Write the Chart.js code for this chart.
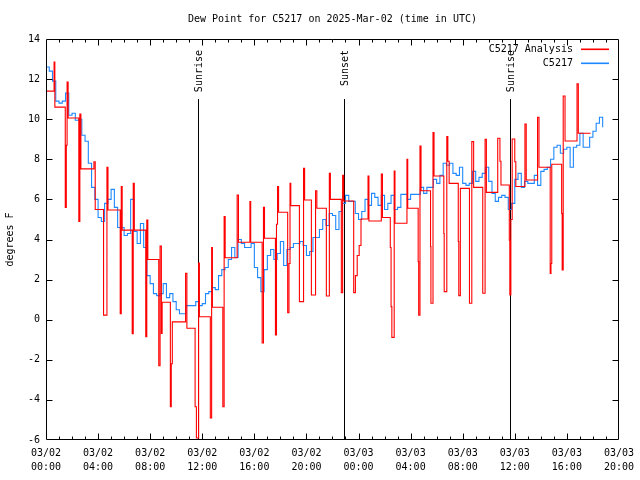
<!DOCTYPE html>
<html><head><meta charset="utf-8">
<script src="https://cdn.jsdelivr.net/npm/chart.js@4"></script>
<style>html,body{margin:0;padding:0;background:#fff}canvas{display:block}</style>
</head><body>
<canvas id="c" width="640" height="480"></canvas>
<script>
const FONT = "'DejaVu Sans Mono', 'Liberation Mono', monospace";
const titleText = 'Dew Point for C5217 on 2025-Mar-02 (time in UTC)';
const yAxisTitle = 'degrees F';
const xTickDates = ['03/02','03/02','03/02','03/02','03/02','03/02','03/03','03/03','03/03','03/03','03/03','03/03'];
const xTickTimes = ['00:00','04:00','08:00','12:00','16:00','20:00','00:00','04:00','08:00','12:00','16:00','20:00'];
const seriesNames = ['C5217 Analysis', 'C5217'];
const seriesColors = ['#ff0000', '#1e88ff'];

// C5217 observations, every 15 minutes from 03/02 00:00 UTC (hours)
const blueStartHour = 0;
const blueStepHours = 0.25;
const blueValues = [
  12.6,12.4,11.9,10.9,10.8,10.9,11.3,10.2,10.3,9.95,10.0,9.2,8.9,7.8,6.6,6.0,
  5.1,4.9,5.8,6.0,6.5,5.6,4.6,4.6,4.2,4.3,6.0,4.4,3.8,4.8,3.6,2.2,1.8,1.3,1.2,1.3,
  1.8,1.1,1.3,0.9,0.5,0.3,0.3,0.7,0.7,0.7,0.9,0.7,0.8,1.3,1.4,1.6,
  1.5,2.2,2.5,2.6,3.0,3.6,3.1,4.0,3.8,3.6,3.6,3.8,2.6,2.1,1.4,2.5,3.2,3.5,3.0,3.3,
  3.9,2.7,3.5,3.6,3.8,3.8,3.9,3.7,3.2,3.4,4.1,4.1,4.5,5.0,4.7,5.3,
  5.2,4.5,5.4,5.8,6.2,5.9,5.9,5.3,5.0,5.4,6.0,5.7,6.3,6.1,5.7,6.2,5.5,5.8,6.2,
  5.5,5.6,6.25,6.25,6.0,6.25,6.25,6.25,6.6,6.3,6.6,6.6,7.0,6.8,7.2,7.8,
  7.7,7.8,7.3,7.2,7.6,6.8,6.7,6.8,7.4,6.9,7.1,7.3,7.6,6.9,6.3,5.9,6.1,6.2,6.1,5.5,
  5.8,7.0,7.3,6.6,6.9,6.8,6.8,7.2,6.7,7.4,7.5,7.6,8.0,8.6,8.7,8.3,
  8.5,8.6,7.6,8.6,8.7,9.3,8.6,8.6,9.1,9.4,9.8,10.1,9.6
];

// C5217 Analysis (step changes), hours since 03/02 00:00 UTC
const redTimes = [
  0.00,0.62,0.68,1.48,1.56,1.62,1.70,2.52,2.60,2.68,3.68,3.78,4.42,4.68,4.76,5.70,5.78,5.85,
  6.62,6.70,6.78,7.66,7.74,7.82,8.66,8.76,8.86,8.92,9.55,9.62,9.70,10.72,10.82,11.45,11.55,
  11.72,11.78,12.62,12.72,12.78,13.58,13.68,13.76,14.68,14.78,15.66,15.72,16.60,16.70,16.78,
  17.62,17.70,17.78,17.86,18.56,18.66,18.74,18.80,19.46,19.78,19.86,20.38,20.70,20.80,
  21.53,21.76,21.84,22.68,22.78,22.86,23.63,23.76,23.90,24.05,24.19,24.73,24.80,25.75,25.84,
  26.44,26.50,26.56,26.74,26.80,27.72,27.78,28.58,28.62,28.72,28.80,29.53,29.56,29.72,29.80,
  30.55,30.58,30.78,30.86,30.96,31.66,31.70,31.82,32.52,32.70,32.84,33.54,33.72,33.82,
  34.69,34.86,34.94,35.58,35.62,35.70,35.80,36.00,36.08,36.78,36.88,37.75,37.86,38.72,38.78,
  38.84,39.60,39.64,39.72,39.86,40.78,40.88,41.82
];
const redValues = [
  11.4,12.85,10.6,5.6,8.7,11.85,10.06,4.9,10.26,7.52,7.88,5.5,0.23,7.6,5.47,0.3,6.64,4.47,
  -0.7,6.8,4.47,-0.85,4.97,3.0,-2.3,3.67,-0.68,0.87,-4.34,-2.2,-0.11,2.31,-0.43,-4.34,-5.9,
  2.83,0.15,-4.9,3.6,0.62,-4.34,5.14,3.09,6.22,3.86,5.89,3.86,-1.16,5.6,4.06,
  -0.76,4.76,6.64,5.36,0.35,2.8,6.8,5.69,0.9,7.55,5.97,1.23,6.43,5.56,
  1.18,7.3,6.0,1.35,7.2,5.92,1.35,2.2,3.2,3.7,5.02,7.17,4.92,7.27,5.1,
  3.6,0.65,-0.88,7.42,4.81,8.0,5.56,2.9,0.23,8.66,6.43,3.65,0.82,9.33,7.17,
  4.3,1.4,9.13,7.9,6.8,3.9,1.2,6.55,0.82,8.88,6.6,1.32,9.0,6.35,
  9.05,7.9,6.72,3.97,1.23,5.0,9.01,7.88,6.64,9.76,6.97,10.1,7.6,2.31,2.8,
  7.75,5.3,2.48,11.16,8.91,11.76,9.3,9.3
];

const sunTimes = [11.65, 22.91, 35.63];
const sunLabels = ['Sunrise', 'Sunset', 'Sunrise'];
const sunLineTopValue = 11;

const blueData = blueValues.map((v, i) => ({x: blueStartHour + i * blueStepHours, y: v}));
const redData = redTimes.map((t, i) => ({x: t, y: redValues[i]}));

const decorPlugin = {
  id: 'decor',
  beforeDatasetsDraw(chart) {
    const ctx = chart.ctx, ca = chart.chartArea;
    const xs = chart.scales.x, ys = chart.scales.y;
    ctx.save();
    ctx.strokeStyle = '#000'; ctx.lineWidth = 1;
    ctx.fillStyle = '#000';
    ctx.font = '10px ' + FONT;
    sunTimes.forEach((t, i) => {
      const x = Math.round(xs.getPixelForValue(t)) + 0.5;
      ctx.beginPath();
      ctx.moveTo(x, Math.round(ys.getPixelForValue(sunLineTopValue)));
      ctx.lineTo(x, ca.bottom);
      ctx.stroke();
      ctx.save();
      ctx.translate(x + 1, ca.top + 11);
      ctx.rotate(-Math.PI / 2);
      ctx.textAlign = 'right';
      ctx.textBaseline = 'middle';
      ctx.fillText(sunLabels[i], 0, 0);
      ctx.restore();
    });
    ctx.restore();
  },
  afterDraw(chart) {
    const ctx = chart.ctx, ca = chart.chartArea;
    const xs = chart.scales.x, ys = chart.scales.y;
    ctx.save();
    ctx.strokeStyle = '#000'; ctx.lineWidth = 1;
    const L = Math.round(ca.left) + 0.5, R = Math.round(ca.right) - 0.5;
    const T = Math.round(ca.top) + 0.5, B = Math.round(ca.bottom) - 0.5;
    ctx.beginPath();
    ctx.rect(L, T, R - L, B - T);
    ctx.stroke();
    ctx.beginPath();
    for (let h = 1; h < 44; h++) {
      const x = Math.round(xs.getPixelForValue(h)) + 0.5;
      const len = (h % 4 === 0) ? 6 : 3;
      ctx.moveTo(x, B); ctx.lineTo(x, B - len);
      ctx.moveTo(x, T); ctx.lineTo(x, T + len);
    }
    for (let v = -4; v < 14; v += 2) {
      const y = Math.round(ys.getPixelForValue(v)) + 0.5;
      ctx.moveTo(L, y); ctx.lineTo(L + 6, y);
      ctx.moveTo(R, y); ctx.lineTo(R - 6, y);
    }
    ctx.stroke();
    // legend
    ctx.font = '10px ' + FONT;
    ctx.textAlign = 'right';
    ctx.textBaseline = 'middle';
    seriesNames.forEach((name, i) => {
      const y = Math.round(ca.top + 10 + i * 13.5);
      ctx.fillStyle = '#000';
      ctx.fillText(name, ca.right - 46, y + 0.5);
      ctx.fillStyle = seriesColors[i];
      ctx.fillRect(Math.round(ca.right - 38), y - 0.5, 28, 1.6);
    });
    ctx.restore();
  }
};

new Chart(document.getElementById('c'), {
  type: 'line',
  data: {
    datasets: [
      {label: seriesNames[0], data: redData, borderColor: seriesColors[0], backgroundColor: seriesColors[0],
       borderWidth: 1.1, pointRadius: 0, stepped: 'before', fill: false},
      {label: seriesNames[1], data: blueData, borderColor: seriesColors[1], backgroundColor: seriesColors[1],
       borderWidth: 1.1, pointRadius: 0, stepped: 'before', fill: false}
    ]
  },
  options: {
    responsive: false,
    animation: false,
    events: [],
    layout: {padding: {left: 0, right: 20, top: 0, bottom: 0}},
    plugins: {
      legend: {display: false},
      tooltip: {enabled: false},
      title: {display: true, text: titleText, fullSize: false, color: '#000',
              font: {family: FONT, size: 10, weight: 'normal', lineHeight: 1.2},
              padding: {top: 13, bottom: 14}}
    },
    scales: {
      x: {
        type: 'linear', min: 0, max: 44,
        grid: {display: false, drawTicks: false},
        border: {display: false},
        ticks: {
          stepSize: 4, autoSkip: false, maxRotation: 0, padding: 6, color: '#000',
          font: {family: FONT, size: 10, lineHeight: 1.4},
          callback: (v) => { const i = Math.round(v / 4); return [xTickDates[i], xTickTimes[i]]; }
        },
        afterFit: (s) => { s.height = 40; }
      },
      y: {
        min: -6, max: 14,
        grid: {display: false, drawTicks: false},
        border: {display: false},
        ticks: {stepSize: 2, padding: 6, color: '#000', font: {family: FONT, size: 10}},
        title: {display: true, text: yAxisTitle, color: '#000', font: {family: FONT, size: 10}, padding: {top: 4, bottom: 4}},
        afterFit: (s) => { s.width = 46; }
      }
    }
  },
  plugins: [decorPlugin]
});
</script>
</body></html>
